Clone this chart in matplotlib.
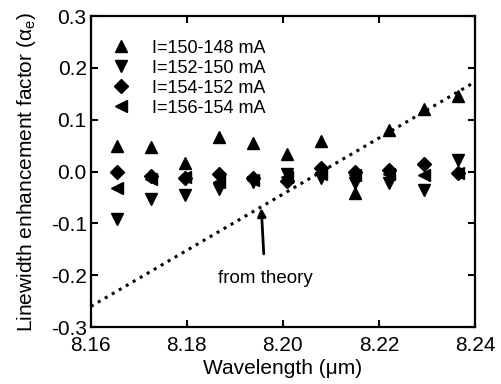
import numpy as np
import matplotlib
matplotlib.use('Agg')
import matplotlib.pyplot as plt

plt.rcParams['font.family'] = ['Liberation Sans', 'DejaVu Sans']
plt.rcParams['axes.unicode_minus'] = False
plt.rcParams['mathtext.fontset'] = 'custom'
plt.rcParams['mathtext.rm'] = 'Liberation Sans'
plt.rcParams['mathtext.it'] = 'Liberation Sans'

# wavelength of each measurement column (um)
wl = [8.1654, 8.1725, 8.1796, 8.1867, 8.1938, 8.2009,
      8.2080, 8.2151, 8.2222, 8.2293, 8.2365]

# alpha_e for each current step
a_150 = [0.050, 0.047, 0.016, 0.066, 0.055, 0.034, 0.060, -0.042, 0.080, 0.120, 0.145]
a_152 = [-0.092, -0.053, -0.045, -0.033, -0.020, -0.005, -0.013, -0.022, -0.022, -0.035, 0.022]
a_154 = [0.000, -0.008, -0.013, -0.004, -0.012, -0.018, 0.008, 0.000, 0.003, 0.015, -0.003]
a_156 = [-0.032, -0.015, -0.011, -0.020, -0.016, -0.010, -0.005, -0.007, -0.005, -0.007, -0.003]

labels = ['I=150-148 mA', 'I=152-150 mA', 'I=154-152 mA', 'I=156-154 mA']

# theory line end points
wl_th = [8.16, 8.24]
a_th = [-0.26, 0.173]

fig = plt.figure(figsize=(5.02, 3.84), dpi=100)
ax = fig.add_axes([0.181, 0.148, 0.765, 0.81])

ax.plot(wl, a_150, '^', color='black', ms=9, ls='none', label=labels[0])
ax.plot(wl, a_152, 'v', color='black', ms=9, ls='none', label=labels[1])
ax.plot(wl, a_154, 'D', color='black', ms=7, ls='none', label=labels[2])
ax.plot(wl, a_156, '<', color='black', ms=9, ls='none', label=labels[3])

ax.plot(wl_th, a_th, ':', color='black', lw=2.2)

ax.annotate('from theory', xy=(8.1955, -0.070), xytext=(8.1963, -0.207),
            ha='center', va='center', fontsize=13.5,
            arrowprops=dict(arrowstyle='-|>', color='black', lw=2,
                            mutation_scale=12, shrinkA=10, shrinkB=0))

ax.set_xlim(8.16, 8.24)
ax.set_ylim(-0.3, 0.3)
ax.set_xticks([8.16, 8.18, 8.20, 8.22, 8.24])
ax.set_xticklabels(['8.16', '8.18', '8.20', '8.22', '8.24'])
ax.set_yticks(np.arange(-0.3, 0.31, 0.1))
ax.set_yticklabels(['-0.3', '-0.2', '-0.1', '0.0', '0.1', '0.2', '0.3'])

ax.tick_params(direction='in', length=5, width=1.5, top=True, right=True,
               labelsize=15)
ax.tick_params(axis='x', pad=6)
ax.tick_params(axis='y', pad=3)
for sp in ax.spines.values():
    sp.set_linewidth(1.6)

ax.set_xlabel('Wavelength (\u03bcm)', fontsize=15, labelpad=3)
ax.set_ylabel('Linewidth enhancement factor (\u03b1$_\\mathrm{e}$)', fontsize=15, labelpad=9)

ax.legend(loc='upper left', bbox_to_anchor=(-0.016, 1.0), frameon=False,
          fontsize=13, handletextpad=1.0, labelspacing=0.17,
          borderaxespad=0.5, handlelength=1.4, borderpad=0.8)

fig.savefig('out.png', dpi=100)
